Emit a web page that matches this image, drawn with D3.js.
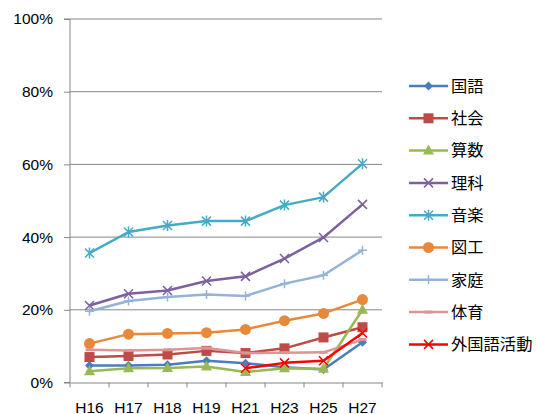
<!DOCTYPE html>
<html><head><meta charset="utf-8">
<script src="https://cdn.jsdelivr.net/npm/d3@7/dist/d3.min.js"></script>
<style>body{margin:0;background:#fff}svg{display:block}</style>
</head><body>
<svg id="c" width="536" height="414"></svg>
<script>
const categories = ["H16","H17","H18","H19","H21","H23","H25","H27"];
const yTicks = [0,20,40,60,80,100];
const seriesNames = ["国語","社会","算数","理科","音楽","図工","家庭","体育","外国語活動"];
const kokugo   = [4.7,4.7,4.9,6.0,5.3,4.2,3.6,11.1];
const shakai   = [7.0,7.3,7.7,8.7,8.1,9.4,12.4,15.2];
const sansu    = [3.1,3.9,4.0,4.4,2.9,3.9,3.8,20.0];
const rika     = [21.2,24.4,25.3,27.9,29.2,34.1,39.9,49.0];
const ongaku   = [35.6,41.4,43.2,44.4,44.4,48.8,51.0,60.2];
const zuko     = [10.7,13.3,13.5,13.7,14.6,17.0,19.0,22.8];
const katei    = [19.6,22.4,23.5,24.2,23.8,27.2,29.5,36.4];
const taiiku   = [9.0,8.8,9.0,9.5,8.1,8.2,8.3,11.8];
const gaikokugo= [null,null,null,null,3.9,5.4,6.0,13.6];
const seriesValues = [kokugo,shakai,sansu,rika,ongaku,zuko,katei,taiiku,gaikokugo];
const colors = ["#4A7EBB","#BE4B48","#98B954","#7D60A0","#46AAC5","#E7893B","#93B3D9","#DA9694","#FF0000"];
const markers = ["diamond","square","triangle","x","star","circle","plus","dash","x"];

const svg = d3.select("#c");
const x = d3.scaleBand().domain(categories).range([70,382]);
const y = d3.scaleLinear().domain([0,100]).range([382.5,19]);
const font = "'Liberation Sans','Noto Sans',sans-serif";
const jfont = "'Noto Sans CJK JP',sans-serif";

// gridlines
svg.append("g").selectAll("line").data(yTicks.filter(d=>d>0)).join("line")
  .attr("x1",70).attr("x2",382).attr("y1",d=>y(d)).attr("y2",d=>y(d))
  .attr("stroke","#868686").attr("stroke-width",1);

// y axis
const ya = svg.append("g").attr("transform","translate(70,0)")
  .call(d3.axisLeft(y).tickValues(yTicks).tickFormat(d=>d+"%").tickSize(6).tickPadding(11));
ya.select(".domain").attr("stroke","#868686").attr("d","M-6,"+y(100)+"H0V"+y(0)+"H-6");
ya.selectAll(".tick line").attr("stroke","#868686");
ya.selectAll("text").attr("font-family",font).attr("font-size",15.5).attr("fill","#000");

// x axis
const xa = svg.append("g").attr("transform","translate(0,"+y(0)+")")
  .call(d3.axisBottom(x).tickSize(0).tickPadding(0));
xa.select(".domain").attr("stroke","#868686");
xa.selectAll("text").attr("font-family",font).attr("font-size",15.5).attr("fill","#000")
  .attr("dy",null).attr("y",30);
const edges = d3.range(categories.length+1).map(i=>70+i*x.bandwidth());
xa.append("g").selectAll("line").data(edges).join("line")
  .attr("x1",d=>d).attr("x2",d=>d).attr("y1",0).attr("y2",5).attr("stroke","#868686");

function drawMarker(g, type, color, cx, cy){
  const s = 4.5;
  if(type==="diamond"){
    g.append("path").attr("d",`M${cx},${cy-s}L${cx+s},${cy}L${cx},${cy+s}L${cx-s},${cy}Z`).attr("fill",color);
  } else if(type==="square"){
    g.append("rect").attr("x",cx-5).attr("y",cy-5).attr("width",10).attr("height",10).attr("fill",color);
  } else if(type==="triangle"){
    g.append("path").attr("d",`M${cx},${cy-6}L${cx+5.5},${cy+4}L${cx-5.5},${cy+4}Z`).attr("fill",color);
  } else if(type==="circle"){
    g.append("circle").attr("cx",cx).attr("cy",cy).attr("r",5.5).attr("fill",color);
  } else if(type==="x"){
    g.append("path").attr("d",`M${cx-s},${cy-s}L${cx+s},${cy+s}M${cx-s},${cy+s}L${cx+s},${cy-s}`).attr("stroke",color).attr("stroke-width",1.5);
  } else if(type==="star"){
    g.append("path").attr("d",`M${cx-s},${cy-s}L${cx+s},${cy+s}M${cx-s},${cy+s}L${cx+s},${cy-s}M${cx},${cy-s-1}L${cx},${cy+s+1}`).attr("stroke",color).attr("stroke-width",1.5);
  } else if(type==="plus"){
    g.append("path").attr("d",`M${cx-s},${cy}L${cx+s},${cy}M${cx},${cy-s}L${cx},${cy+s}`).attr("stroke",color).attr("stroke-width",1.5);
  } else if(type==="dash"){
    g.append("path").attr("d",`M${cx-4},${cy}L${cx+4},${cy}`).attr("stroke",color).attr("stroke-width",3);
  }
}

const cx = d => x(d) + x.bandwidth()/2;
const line = d3.line().defined(d=>d.v!=null).x(d=>cx(d.c)).y(d=>y(d.v));
seriesValues.forEach((vals,i)=>{
  const pts = categories.map((c,j)=>({c,v:vals[j]}));
  const g = svg.append("g");
  g.append("path").attr("d",line(pts)).attr("fill","none").attr("stroke",colors[i]).attr("stroke-width",2.5).attr("stroke-linejoin","round");
  pts.filter(p=>p.v!=null).forEach(p=>drawMarker(g,markers[i],colors[i],cx(p.c),y(p.v)));
});

// legend
const leg = svg.append("g");
seriesNames.forEach((n,i)=>{
  const ly = 86 + i*32.3;
  const g = leg.append("g");
  g.append("line").attr("x1",409).attr("x2",448).attr("y1",ly).attr("y2",ly).attr("stroke",colors[i]).attr("stroke-width",2.5);
  drawMarker(g,markers[i],colors[i],428.5,ly);
  g.append("text").attr("x",451).attr("y",ly).attr("dy","0.36em").attr("font-family",jfont).attr("font-size",16.3).text(n);
});
</script>
</body></html>
